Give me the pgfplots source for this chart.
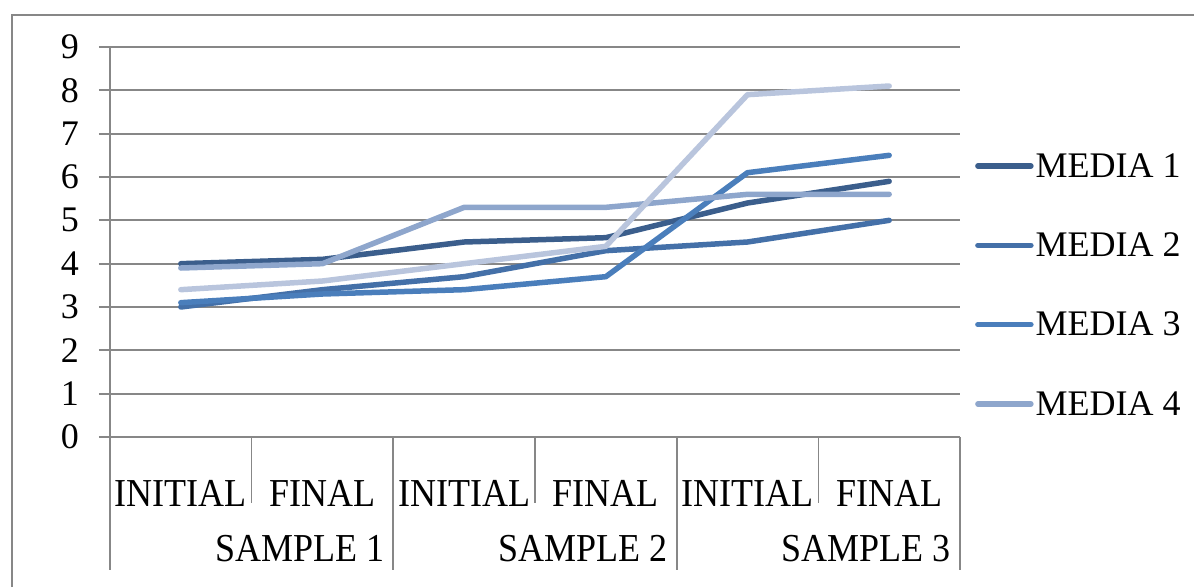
\documentclass[border=0pt]{standalone}
\usepackage{pgfplots}
\pgfplotsset{compat=1.18}
\usepackage{fontspec}
\setmainfont{Liberation Serif}

\definecolor{gridgray}{HTML}{878787}
\definecolor{mediaA}{HTML}{3B5E8C}
\definecolor{mediaB}{HTML}{4470A8}
\definecolor{mediaC}{HTML}{4A7EBB}
\definecolor{mediaD}{HTML}{8EA6CC}
\definecolor{mediaE}{HTML}{B9C5DD}

\newcommand{\bigfont}{\fontsize{36}{40}\selectfont}

\begin{document}
\begin{tikzpicture}[x=1pt,y=1pt]
\useasboundingbox (0,0) rectangle (1194,587);
\draw[gridgray, line width=2pt] (12,0) -- (12,572) -- (1194,572);

\begin{axis}[
    at={(110pt,150pt)}, anchor=south west,
    scale only axis,
    width=850pt, height=390pt,
    xmin=0.5, xmax=6.5,
    ymin=0, ymax=9,
    clip=false,
    axis x line*=bottom,
    axis y line*=left,
    axis line style={gridgray, line width=2pt},
    xtick={1,...,6},
    xticklabels={INITIAL, FINAL, INITIAL, FINAL, INITIAL, FINAL},
    major x tick style={draw=none},
    ytick={0,1,...,9},
    tick align=outside,
    major tick length=11pt,
    major y tick style={gridgray, line width=2pt},
    ymajorgrids=true,
    grid style={gridgray, line width=2pt},
    /pgf/number format/assume math mode=true,
    every tick label/.append style={font=\bigfont, inner sep=0pt},
    yticklabel style={xshift=-20pt},
    xticklabel style={yshift=-32pt, yscale=1.1},
    legend style={
        at={(1.0176,0.733)}, anchor=north west,
        draw=none, fill=none,
        font=\bigfont,
        inner sep=0pt,
        row sep=50pt,
        nodes={inner sep=2pt},
    },
    legend cell align=left,
    legend image code/.code={
        \draw[#1, line width=5.5pt, line cap=round] (0pt,0pt) -- (53pt,0pt);
    },
    every axis plot/.append style={line width=5.5pt, line join=round, line cap=round},
]

\addplot[mediaA] coordinates {
    (1,4.0) (2,4.1) (3,4.5) (4,4.6) (5,5.4) (6,5.9)
};
\addlegendentry{MEDIA 1}

\addplot[mediaB] coordinates {
    (1,3.0) (2,3.4) (3,3.7) (4,4.3) (5,4.5) (6,5.0)
};
\addlegendentry{MEDIA 2}

\addplot[mediaC] coordinates {
    (1,3.1) (2,3.3) (3,3.4) (4,3.7) (5,6.1) (6,6.5)
};
\addlegendentry{MEDIA 3}

\addplot[mediaD] coordinates {
    (1,3.9) (2,4.0) (3,5.3) (4,5.3) (5,5.6) (6,5.6)
};
\addlegendentry{MEDIA 4}

% fifth series is drawn but has no entry in the legend
\addplot[mediaE, forget plot] coordinates {
    (1,3.4) (2,3.6) (3,4.0) (4,4.4) (5,7.9) (6,8.1)
};

% category separators
\draw[gridgray, line width=2pt] (axis cs:0.5,0) -- ++(0pt,-133pt);
\draw[gridgray, line width=2pt] (axis cs:2.5,0) -- ++(0pt,-133pt);
\draw[gridgray, line width=2pt] (axis cs:4.5,0) -- ++(0pt,-133pt);
\draw[gridgray, line width=2pt] (axis cs:6.5,0) -- ++(0pt,-133pt);
\draw[gridgray, line width=1.5pt] (axis cs:1.5,0) -- ++(0pt,-66pt);
\draw[gridgray, line width=1.5pt] (axis cs:3.5,0) -- ++(0pt,-66pt);
\draw[gridgray, line width=1.5pt] (axis cs:5.5,0) -- ++(0pt,-66pt);

% group labels
\node[font=\bigfont, inner sep=0pt, anchor=east, yscale=1.1] at ([xshift=-9pt, yshift=-112pt]axis cs:2.5,0) {SAMPLE 1};
\node[font=\bigfont, inner sep=0pt, anchor=east, yscale=1.1] at ([xshift=-9pt, yshift=-112pt]axis cs:4.5,0) {SAMPLE 2};
\node[font=\bigfont, inner sep=0pt, anchor=east, yscale=1.1] at ([xshift=-9pt, yshift=-112pt]axis cs:6.5,0) {SAMPLE 3};

\end{axis}
\end{tikzpicture}
\end{document}
